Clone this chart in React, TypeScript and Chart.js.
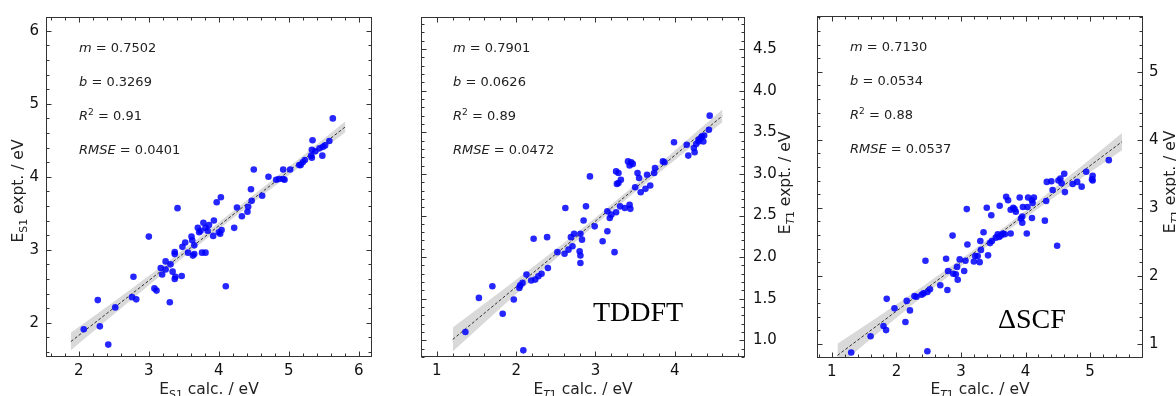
import React, { useEffect, useRef } from "react";
import { Chart, registerables } from "chart.js";

Chart.register(...registerables);

const W = 1176;
const H = 396;
const SANS = "'DejaVu Sans', 'Liberation Sans', sans-serif";
const SERIF = "'Liberation Serif', 'DejaVu Serif', serif";

// ---------------- Panel 1 : S1 (TDDFT singlets) ----------------
const s1Calc = [2.07, 2.27, 2.30, 2.42, 2.52, 2.78, 2.76, 2.82, 3.00, 3.08, 3.11, 3.30, 3.17, 3.19, 3.24, 3.24, 3.31, 3.34, 3.37, 3.37,
  3.37, 3.38, 3.41, 3.47, 3.48, 3.52, 3.56, 3.61, 3.62, 3.63, 3.65, 3.65, 3.70, 3.72, 3.74, 3.76, 3.78, 3.81, 3.81, 3.84,
  3.86, 3.92, 3.93, 3.97, 4.00, 4.03, 4.02, 4.04, 4.10, 4.22, 4.26, 4.33, 4.41, 4.42, 4.46, 4.47, 4.50, 4.62, 4.71, 4.82,
  4.86, 4.92, 4.92, 4.94, 5.02, 5.15, 5.17, 5.20, 5.23, 5.32, 5.33, 5.34, 5.33, 5.38, 5.44, 5.48, 5.49, 5.52, 5.58, 5.63];
const s1Expt = [1.91, 2.31, 1.95, 1.70, 2.21, 2.63, 2.35, 2.32, 3.18, 2.47, 2.44, 2.28, 2.75, 2.66, 2.84, 2.73, 2.80, 2.70, 2.97, 2.94,
  2.60, 2.63, 3.57, 2.64, 3.04, 3.10, 2.96, 3.18, 3.13, 2.92, 3.06, 2.94, 3.30, 3.24, 3.26, 2.96, 3.37, 2.96, 3.30, 3.26,
  3.34, 3.19, 3.40, 3.65, 3.24, 3.72, 3.22, 3.27, 2.50, 3.30, 3.58, 3.46, 3.52, 3.59, 3.83, 3.67, 4.10, 3.74, 4.00, 3.96,
  3.97, 3.97, 4.10, 3.96, 4.10, 4.16, 4.16, 4.20, 4.23, 4.29, 4.26, 4.50, 4.37, 4.35, 4.39, 4.29, 4.41, 4.43, 4.49, 4.80];
const s1XTicks = [2, 3, 4, 5, 6];
const s1YTicks = [2, 3, 4, 5, 6];
const s1FitX = [1.885, 5.81];
const s1BandX = [1.885, 2.5, 3.2, 3.9, 4.6, 5.2, 5.81];
const s1BandHalf = [0.12, 0.085, 0.055, 0.045, 0.05, 0.06, 0.075];

// ---------------- Panel 2 : T1 TDDFT ----------------
const tdCalc = [1.36, 1.53, 1.70, 1.83, 1.97, 2.04, 2.05, 2.08, 2.09, 2.13, 2.19, 2.22, 2.24, 2.28, 2.32, 2.39, 2.40, 2.52, 2.61, 2.62,
  2.66, 2.69, 2.71, 2.73, 2.81, 2.80, 2.81, 2.81, 2.83, 2.85, 2.88, 2.93, 2.99, 3.09, 3.15, 3.15, 3.18, 3.20, 3.24, 3.26,
  3.29, 3.27, 3.29, 3.32, 3.26, 3.31, 3.37, 3.43, 3.44, 3.41, 3.43, 3.45, 3.47, 3.50, 3.53, 3.55, 3.57, 3.63, 3.65, 3.69,
  3.74, 3.75, 3.85, 3.87, 3.99, 4.15, 4.17, 4.24, 4.25, 4.27, 4.30, 4.33, 4.36, 4.37, 4.43, 4.44, 4.30, 4.34];
const tdExpt = [1.10, 1.51, 1.65, 1.32, 1.49, 1.63, 1.66, 1.69, 0.88, 1.79, 1.72, 2.22, 1.73, 1.77, 1.80, 2.24, 1.87, 2.06, 2.04, 2.59,
  2.09, 2.24, 2.13, 2.28, 2.28, 2.07, 2.02, 1.93, 2.21, 2.44, 2.61, 2.97, 2.37, 2.19, 2.31, 2.55, 2.47, 2.51, 2.06, 3.03,
  3.01, 2.88, 2.89, 2.93, 2.54, 2.61, 2.59, 2.63, 2.58, 3.15, 3.10, 3.14, 3.12, 2.84, 3.01, 2.95, 2.78, 2.82, 2.99, 2.86,
  3.01, 3.07, 3.15, 3.14, 3.38, 3.35, 3.22, 3.31, 3.26, 3.36, 3.41, 3.43, 3.39, 3.46, 3.53, 3.70, 3.39, 3.45];
const tdXTicks = [1, 2, 3, 4];
const tdYTicks = [1.0, 1.5, 2.0, 2.5, 3.0, 3.5, 4.0, 4.5];
const tdFitX = [1.2, 4.6];
const tdBandX = [1.2, 1.8, 2.4, 3.0, 3.6, 4.1, 4.6];
const tdBandHalf = [0.145, 0.1, 0.06, 0.04, 0.045, 0.06, 0.078];

// ---------------- Panel 3 : T1 ΔSCF ----------------
const scfCalc = [1.30, 1.60, 1.80, 1.84, 1.85, 1.97, 2.14, 2.16, 2.21, 2.28, 2.31, 2.39, 2.42, 2.45, 2.48, 2.48, 2.52, 2.68, 2.77, 2.79,
  2.80, 2.87, 2.88, 2.92, 2.94, 2.95, 2.98, 3.05, 3.07, 3.09, 3.10, 3.20, 3.22, 3.26, 3.29, 3.30, 3.31, 3.35, 3.40, 3.42,
  3.45, 3.47, 3.48, 3.54, 3.57, 3.59, 3.60, 3.62, 3.65, 3.68, 3.70, 3.73, 3.77, 3.77, 3.81, 3.83, 3.85, 3.91, 3.93, 3.95,
  3.95, 3.96, 4.02, 4.03, 4.04, 4.10, 4.10, 4.11, 4.13, 4.30, 4.32, 4.33, 4.40, 4.42, 4.49, 4.51, 4.54, 4.56, 4.60, 4.61,
  4.73, 4.80, 4.87, 4.94, 5.03, 5.04, 5.04, 5.29];
const scfExpt = [0.87, 1.11, 1.26, 1.20, 1.66, 1.52, 1.32, 1.63, 1.49, 1.70, 1.69, 1.72, 1.74, 2.22, 1.76, 0.89, 1.80, 1.86, 2.25, 1.79,
  2.07, 2.59, 2.03, 2.02, 2.13, 1.94, 2.24, 2.07, 2.22, 2.98, 2.46, 2.21, 2.29, 2.29, 2.20, 2.51, 2.38, 2.64, 3.00, 2.30,
  2.48, 2.89, 2.51, 2.56, 2.61, 2.57, 3.03, 2.59, 2.62, 2.61, 3.16, 3.11, 2.62, 2.97, 3.00, 2.98, 2.94, 3.15, 2.84, 2.87,
  2.78, 3.01, 2.62, 3.01, 3.15, 2.85, 3.11, 3.07, 3.15, 2.81, 3.10, 3.38, 3.39, 3.26, 2.44, 3.40, 3.43, 3.36, 3.50, 3.23,
  3.35, 3.38, 3.31, 3.53, 3.42, 3.47, 3.40, 3.70];
const scfXTicks = [1, 2, 3, 4, 5];
const scfYTicks = [1, 2, 3, 4, 5];
const scfFitX = [1.087, 5.495];
const scfBandX = [1.087, 1.7, 2.4, 3.1, 3.7, 4.3, 4.9, 5.495];
const scfBandHalf = [0.17, 0.12, 0.075, 0.05, 0.045, 0.06, 0.09, 0.127];

// ---------------- Fit statistics ----------------
const fitSlopes = [0.7502, 0.7901, 0.713];
const fitIntercepts = [0.3269, 0.0626, 0.0534];
const slopeLabels = ["0.7502", "0.7901", "0.7130"];
const interceptLabels = ["0.3269", "0.0626", "0.0534"];
const r2Labels = ["0.91", "0.89", "0.88"];
const rmseLabels = ["0.0401", "0.0472", "0.0537"];
const methodLabels = ["", "TDDFT", "\u0394SCF"];
const stateSubs = ["S1", "T1", "T1"];

type Part = { t: string; italic?: boolean; sub?: boolean; sup?: boolean };

const panelData = [
  { calc: s1Calc, expt: s1Expt, xTicks: s1XTicks, yTicks: s1YTicks, fitX: s1FitX, bandX: s1BandX, bandHalf: s1BandHalf },
  { calc: tdCalc, expt: tdExpt, xTicks: tdXTicks, yTicks: tdYTicks, fitX: tdFitX, bandX: tdBandX, bandHalf: tdBandHalf },
  { calc: scfCalc, expt: scfExpt, xTicks: scfXTicks, yTicks: scfYTicks, fitX: scfFitX, bandX: scfBandX, bandHalf: scfBandHalf },
];

// layout / style only
const panelLayout = [
  { area: { l: 46, r: 372, t: 17, b: 357 }, xr: [1.53, 6.19], yr: [1.53, 6.19], ySide: "left", xMinor: 0.2, yMinor: 0.2,
    yDec: 0, yPad: 7, annX: 79, annBase: [52, 86, 120, 154], xTitleX: 209, yTitleX: 23, yTitleY: 191, tagX: 0, tagY: 0 },
  { area: { l: 421, r: 745, t: 17, b: 357 }, xr: [0.8, 4.885], yr: [0.8, 4.885], ySide: "right", xMinor: 0.2, yMinor: 0.1,
    yDec: 1, yPad: 8, annX: 453, annBase: [52, 86, 120, 154], xTitleX: 583, yTitleX: 790, yTitleY: 183, tagX: 593, tagY: 321 },
  { area: { l: 817, r: 1143, t: 16, b: 358 }, xr: [0.77, 5.82], yr: [0.79, 5.82], ySide: "right", xMinor: 0.2, yMinor: 0.2,
    yDec: 0, yPad: 6, annX: 850, annBase: [51, 85, 119, 153], xTitleX: 980, yTitleX: 1175, yTitleY: 182, tagX: 998, tagY: 328 },
];

function fontFor(p: Part, base: number, family: string) {
  const size = p.sub || p.sup ? base * 0.7 : base;
  return `${p.italic ? "italic " : ""}${size}px ${family}`;
}

function drawParts(ctx: CanvasRenderingContext2D, parts: Part[], x: number, y: number, base: number, align: "left" | "center", family = SANS) {
  ctx.textAlign = "left";
  ctx.textBaseline = "alphabetic";
  const widths = parts.map((p) => {
    ctx.font = fontFor(p, base, family);
    return ctx.measureText(p.t).width;
  });
  const total = widths.reduce((a, b) => a + b, 0);
  let cx = align === "center" ? x - total / 2 : x;
  parts.forEach((p, i) => {
    ctx.font = fontFor(p, base, family);
    const dy = p.sub ? base * 0.27 : p.sup ? -base * 0.42 : 0;
    ctx.fillText(p.t, cx, y + dy);
    cx += widths[i];
  });
}

function subParts(state: string): Part[] {
  if (state === "S1") return [{ t: "E" }, { t: "S1", sub: true }];
  return [{ t: "E" }, { t: "T", sub: true, italic: true }, { t: "1", sub: true }];
}

function minorValues(min: number, max: number, step: number, majors: number[]) {
  const out: number[] = [];
  const k0 = Math.ceil(min / step - 1e-9);
  const k1 = Math.floor(max / step + 1e-9);
  for (let k = k0; k <= k1; k++) {
    const v = k * step;
    if (!majors.some((m) => Math.abs(m - v) < 1e-6)) out.push(v);
  }
  return out;
}

function makeChart(canvas: HTMLCanvasElement, idx: number) {
  const d = panelData[idx];
  const L = panelLayout[idx];
  const m = fitSlopes[idx];
  const b = fitIntercepts[idx];
  const pts = d.calc.map((x, i) => ({ x, y: d.expt[i] }));
  const fit = d.fitX.map((x) => ({ x, y: m * x + b }));
  const upper = d.bandX.map((x, i) => ({ x, y: m * x + b + d.bandHalf[i] }));
  const lower = d.bandX.map((x, i) => ({ x, y: m * x + b - d.bandHalf[i] }));

  const decor = {
    id: "decor" + idx,
    afterDatasetsDraw(chart: any) {
      const ctx: CanvasRenderingContext2D = chart.ctx;
      const { left, right, top, bottom } = chart.chartArea;
      const xs = chart.scales.x;
      const ys = chart.scales.y;
      const l = Math.round(left) + 0.5;
      const r = Math.round(right) - 0.5;
      const t = Math.round(top) + 0.5;
      const bt = Math.round(bottom) - 0.5;
      ctx.save();
      ctx.strokeStyle = "#333";
      ctx.lineWidth = 1;
      ctx.strokeRect(l, t, r - l, bt - t);
      const seg = (x1: number, y1: number, x2: number, y2: number) => {
        ctx.beginPath();
        ctx.moveTo(x1, y1);
        ctx.lineTo(x2, y2);
        ctx.stroke();
      };
      const xMin = minorValues(L.xr[0], L.xr[1], L.xMinor, d.xTicks);
      const yMin = minorValues(L.yr[0], L.yr[1], L.yMinor, d.yTicks);
      d.xTicks.forEach((v) => {
        const px = Math.round(xs.getPixelForValue(v)) + 0.5;
        seg(px, bt, px, bt - 5);
        seg(px, t, px, t + 5);
      });
      xMin.forEach((v) => {
        const px = Math.round(xs.getPixelForValue(v)) + 0.5;
        seg(px, bt, px, bt - 3);
        seg(px, t, px, t + 3);
      });
      d.yTicks.forEach((v) => {
        const py = Math.round(ys.getPixelForValue(v)) + 0.5;
        seg(l, py, l + 5, py);
        seg(r, py, r - 5, py);
      });
      yMin.forEach((v) => {
        const py = Math.round(ys.getPixelForValue(v)) + 0.5;
        seg(l, py, l + 3, py);
        seg(r, py, r - 3, py);
      });

      ctx.fillStyle = "#222";
      drawParts(ctx, [{ t: "m", italic: true }, { t: " = " + slopeLabels[idx] }], L.annX, L.annBase[0], 13, "left");
      drawParts(ctx, [{ t: "b", italic: true }, { t: " = " + interceptLabels[idx] }], L.annX, L.annBase[1], 13, "left");
      drawParts(ctx, [{ t: "R", italic: true }, { t: "2", sup: true }, { t: " = " + r2Labels[idx] }], L.annX, L.annBase[2], 13, "left");
      drawParts(ctx, [{ t: "RMSE", italic: true }, { t: " = " + rmseLabels[idx] }], L.annX, L.annBase[3], 13, "left");

      if (methodLabels[idx]) {
        ctx.fillStyle = "#000";
        ctx.font = `28px ${SERIF}`;
        ctx.textAlign = "left";
        ctx.textBaseline = "alphabetic";
        ctx.fillText(methodLabels[idx], L.tagX, L.tagY);
      }

      ctx.fillStyle = "#222";
      const sp = subParts(stateSubs[idx]);
      drawParts(ctx, [...sp, { t: " calc. / eV" }], L.xTitleX, 394, 15.5, "center");
      ctx.save();
      ctx.translate(L.yTitleX, L.yTitleY);
      ctx.rotate(-Math.PI / 2);
      drawParts(ctx, [...sp, { t: " expt. / eV" }], 0, 0, 15.5, "center");
      ctx.restore();
      ctx.restore();
    },
  };

  const A = L.area;
  const yLeft = L.ySide === "left";
  return new Chart(canvas, {
    type: "scatter",
    data: {
      datasets: [
        { data: pts, pointRadius: 3.3, pointHoverRadius: 3.3, backgroundColor: "rgba(0,0,255,0.85)", borderWidth: 0, pointBorderWidth: 0 } as any,
        { data: fit, showLine: true, pointRadius: 0, borderColor: "#333", borderWidth: 1, borderDash: [3, 2], fill: false } as any,
        { data: upper, showLine: true, pointRadius: 0, borderWidth: 0, borderColor: "rgba(0,0,0,0)", backgroundColor: "rgba(128,128,128,0.3)", fill: "+1" } as any,
        { data: lower, showLine: true, pointRadius: 0, borderWidth: 0, borderColor: "rgba(0,0,0,0)", fill: false } as any,
      ],
    },
    options: {
      responsive: false,
      animation: false,
      devicePixelRatio: 1,
      events: [],
      layout: {
        autoPadding: false,
        padding: { left: yLeft ? 0 : A.l, right: yLeft ? W - A.r : 0, top: A.t, bottom: 0 },
      } as any,
      plugins: { legend: { display: false }, tooltip: { enabled: false } },
      scales: {
        x: {
          type: "linear",
          position: "bottom",
          min: L.xr[0],
          max: L.xr[1],
          bounds: "data",
          grid: { display: false, drawTicks: false },
          border: { display: false },
          ticks: { color: "#111", font: { family: SANS, size: 15 }, padding: 5, autoSkip: false, maxRotation: 0,
            callback: (v: any) => String(v) },
          afterBuildTicks: (s: any) => { s.ticks = d.xTicks.map((v) => ({ value: v })); },
          afterFit: (s: any) => { s.height = H - A.b; },
        },
        y: {
          type: "linear",
          position: yLeft ? "left" : "right",
          min: L.yr[0],
          max: L.yr[1],
          bounds: "data",
          grid: { display: false, drawTicks: false },
          border: { display: false },
          ticks: { color: "#111", font: { family: SANS, size: 15 }, padding: L.yPad, autoSkip: false,
            callback: (v: any) => Number(v).toFixed(L.yDec) },
          afterBuildTicks: (s: any) => { s.ticks = d.yTicks.map((v) => ({ value: v })); },
          afterFit: (s: any) => { s.width = yLeft ? A.l : W - A.r; },
        },
      } as any,
    },
    plugins: [decor],
  } as any);
}

export default function App() {
  const r0 = useRef<HTMLCanvasElement>(null);
  const r1 = useRef<HTMLCanvasElement>(null);
  const r2 = useRef<HTMLCanvasElement>(null);
  useEffect(() => {
    const charts = [r0, r1, r2].map((r, i) => makeChart(r.current as HTMLCanvasElement, i));
    return () => charts.forEach((c) => c.destroy());
  }, []);
  const cs: React.CSSProperties = { position: "absolute", left: 0, top: 0, width: W, height: H };
  return (
    <div style={{ position: "fixed", left: 0, top: 0, width: W, height: H, background: "#fff", overflow: "hidden" }}>
      <canvas ref={r0} width={W} height={H} style={cs} />
      <canvas ref={r1} width={W} height={H} style={cs} />
      <canvas ref={r2} width={W} height={H} style={cs} />
    </div>
  );
}
